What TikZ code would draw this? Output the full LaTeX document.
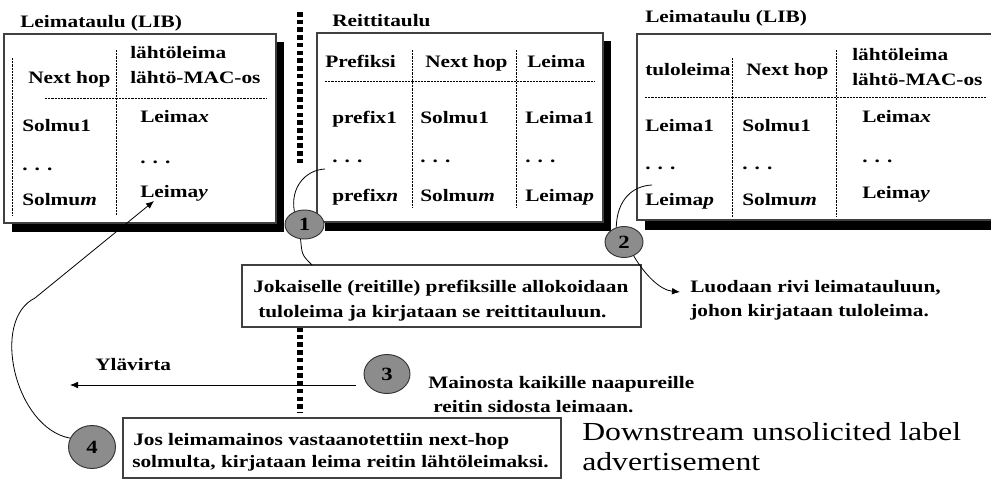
\documentclass[tikz,border=0pt]{standalone}
\usepackage{fontspec}
\setmainfont{Liberation Serif}[FakeStretch=1.22]
\usetikzlibrary{shapes.geometric,arrows.meta,fit}
\begin{document}
\begin{tikzpicture}[x=0.75pt,y=-0.75pt,
  bt/.style={inner sep=0pt, anchor=base west, font=\bfseries\fontsize{13.1}{15}\selectfont},
  rt/.style={inner sep=0pt, anchor=base west, font=\fontsize{19.5}{22}\selectfont},
  tablebox/.style={draw=black!75, fill=white, line width=0.8pt, inner sep=0pt},
  shadowbox/.style={fill=black},
  thindash/.style={line width=0.65pt, dash pattern=on 1.6pt off 0.8pt},
  heavydot/.style={line width=4pt, dash pattern=on 3.4pt off 2.4pt},
  num/.style={ellipse, draw=black!80, fill=black!45, line width=0.7pt, inner sep=0pt,
    font=\bfseries\fontsize{14}{16}\selectfont},
  conn/.style={line width=0.6pt},
  arr/.style={line width=0.6pt, -{Latex[length=6pt,width=5pt]}}]
\useasboundingbox (0,0) rectangle (991,482);
\clip (0,0) rectangle (991,482);
\fill[white] (0,0) rectangle (991,482);

% shadows
\fill[shadowbox] (12,42) rectangle (284,232);
\fill[shadowbox] (325,41) rectangle (611,231);
\fill[shadowbox] (645,42) rectangle (1013,230);

% table boxes
\node[tablebox, fit={(4,34) (276,223)}] (t1) {};
\node[tablebox, fit={(317,33) (603,222)}] (t2) {};
\node[tablebox, fit={(637,34) (1005,220)}] (t3) {};

% inner lines table 1
\draw[thindash] (12,58) -- (12,215);
\draw[thindash] (116,50) -- (116,215);
\draw[thindash] (45,98) -- (267,98);
% table 2
\draw[thindash] (412,50) -- (412,208);
\draw[thindash] (516,50) -- (516,208);
\draw[thindash] (325,81) -- (595,81);
% table 3
\draw[thindash] (732,58) -- (732,217);
\draw[thindash] (836,50) -- (836,217);
\draw[thindash] (645,97) -- (987,97);

% titles
\node[bt] (ti1) at (20,27) {Leimataulu (LIB)};
\node[bt] (ti2) at (332,26) {Reittitaulu};
\node[bt] (ti3) at (645,22) {Leimataulu (LIB)};

% table 1 texts
\node[bt] (a1) at (28,83) {Next hop};
\node[bt] (a2) at (130,58) {lähtöleima};
\node[bt] (a3) at (130,83) {lähtö-MAC-os};
\node[bt] (a4) at (22,131) {Solmu1};
\node[bt] (a5) at (22,170) {. . .};
\node[bt] (a6) at (22,205) {Solmu\textit{m}};
\node[bt] (a7) at (140,122) {Leima\textit{x}};
\node[bt] (a8) at (140,163) {. . .};
\node[bt] (a9) at (140,197) {Leima\textit{y}};

% table 2 texts
\node[bt] (b1) at (325,67) {Prefiksi};
\node[bt] (b2) at (425,67) {Next hop};
\node[bt] (b3) at (527,67) {Leima};
\node[bt] (b4) at (332,123) {prefix1};
\node[bt] (b5) at (420,123) {Solmu1};
\node[bt] (b6) at (525,123) {Leima1};
\node[bt] (b7) at (332,162) {. . .};
\node[bt] (b8) at (420,162) {. . .};
\node[bt] (b9) at (525,162) {. . .};
\node[bt] (b10) at (332,201) {prefix\textit{n}};
\node[bt] (b11) at (420,201) {Solmu\textit{m}};
\node[bt] (b12) at (525,201) {Leima\textit{p}};

% table 3 texts
\node[bt] (c1t) at (645,75) {tuloleima};
\node[bt] (c2t) at (746,75) {Next hop};
\node[bt] (c3t) at (852,60) {lähtöleima};
\node[bt] (c4t) at (852,85) {lähtö-MAC-os};
\node[bt] (c5t) at (645,131) {Leima1};
\node[bt] (c6t) at (742,131) {Solmu1};
\node[bt] (c7t) at (862,122) {Leima\textit{x}};
\node[bt] (c8t) at (645,169) {. . .};
\node[bt] (c9t) at (742,169) {. . .};
\node[bt] (c10t) at (862,162) {. . .};
\node[bt] (c11t) at (645,205) {Leima\textit{p}};
\node[bt] (c12t) at (742,205) {Solmu\textit{m}};
\node[bt] (c13t) at (862,198) {Leima\textit{y}};

% heavy dotted separator
\coordinate (d1a) at (300,12);
\coordinate (d1b) at (300,165);
\coordinate (d2a) at (300,327);
\coordinate (d2b) at (300,413);
\draw[heavydot] (d1a) -- (d1b);
\draw[heavydot] (d2a) -- (d2b);

% text boxes
\node[tablebox, fit={(242,265) (641,327)}] (tb1) {};
\node[tablebox, fit={(123,418) (561,478)}] (tb2) {};

\node[bt] (s1) at (253,292) {Jokaiselle (reitille) prefiksille allokoidaan};
\node[bt] (s2) at (258,317) {tuloleima ja kirjataan se reittitauluun.};
\node[bt] (s3) at (690,292) {Luodaan rivi leimatauluun,};
\node[bt] (s4) at (690,316) {johon kirjataan tuloleima.};
\node[bt] (s5) at (95,370) {Ylävirta};
\node[bt] (s6) at (428,388) {Mainosta kaikille naapureille};
\node[bt] (s7) at (433,412) {reitin sidosta leimaan.};
\node[bt] (s8) at (133,445) {Jos leimamainos vastaanotettiin next-hop};
\node[bt] (s9) at (132,467) {solmulta, kirjataan leima reitin lähtöleimaksi.};
\node[rt] (s10) at (582,440) {Downstream unsolicited label};
\node[rt] (s11) at (582,470) {advertisement};

% circles
\node[num, minimum width=29.25pt, minimum height=21.75pt] (n1) at (304.5,224.5) {1};
\node[num, minimum width=28.5pt, minimum height=23.25pt] (n2) at (624,242) {2};
\node[num, minimum width=34.5pt, minimum height=29.25pt] (n3) at (387,374) {3};
\node[num, minimum width=35.25pt, minimum height=32.25pt] (n4) at (92,447) {4};

% connectors
\coordinate (k1) at (325,169);
\coordinate (k1b) at (312,265);
\coordinate (k2) at (652,185);
\coordinate (k2e) at (680,292);
\coordinate (k3s) at (356,385);
\coordinate (k3e) at (70,385);
\coordinate (k4m) at (35,298);
\coordinate (k4e) at (154,201);

\draw[conn] (n1.128) .. controls (290,188) and (305,170) .. (k1);
\draw[conn] (n1.255) .. controls (302,255) .. (k1b);
\draw[conn] (n2.118) .. controls (617,200) and (632,186) .. (k2);
\draw[arr] (n2.-55) .. controls (645,275) and (660,290) .. (k2e);
\draw[arr] (k3s) -- (k3e);
\draw[arr] (n4.158) .. controls (15,428) and (-10,320) .. (k4m) -- (k4e);
\end{tikzpicture}
\end{document}
